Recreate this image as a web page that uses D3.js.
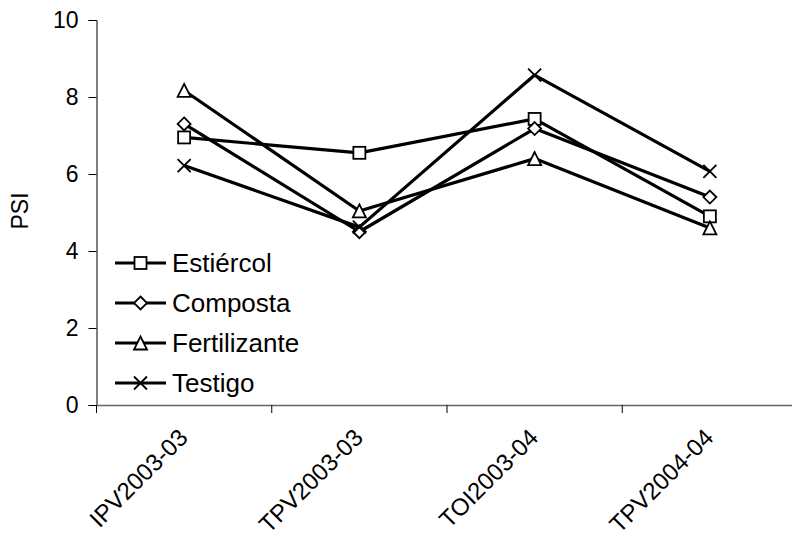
<!DOCTYPE html>
<html><head><meta charset="utf-8">
<script src="https://cdn.jsdelivr.net/npm/d3@7"></script>
<style>body{margin:0;background:#fff}svg{display:block}</style>
</head><body>
<script>
const categories = ["IPV2003-03", "TPV2003-03", "TOI2003-04", "TPV2004-04"];
const seriesNames = ["Estiércol", "Composta", "Fertilizante", "Testigo"];
const estiercol = [6.95, 6.55, 7.43, 4.9];
const composta = [7.3, 4.5, 7.18, 5.4];
const fertilizante = [8.17, 5.04, 6.4, 4.6];
const testigo = [6.22, 4.62, 8.57, 6.07];
const yTicks = [0, 2, 4, 6, 8, 10];
const markers = ["square", "diamond", "triangle", "cross"];

const series = [estiercol, composta, fertilizante, testigo].map((v, i) => ({name: seriesNames[i], values: v, marker: markers[i]}));

const W = 792, H = 542;
const svg = d3.select("body").append("svg").attr("width", W).attr("height", H);
const font = "'Liberation Sans', Arial, sans-serif";

const x = d3.scaleBand().domain(categories).range([96.5, 797.5]);
const y = d3.scaleLinear().domain([0, 10]).range([405, 20]);

// y axis
const yAxis = svg.append("g").attr("transform", "translate(96.5,0)")
  .call(d3.axisLeft(y).tickValues(yTicks).tickSize(8).tickPadding(10));
yAxis.select(".domain").attr("stroke", "#000").attr("stroke-width", 1);
yAxis.selectAll(".tick line").attr("stroke", "#000");
yAxis.selectAll("text").attr("font-family", font).attr("font-size", 23).attr("fill", "#000");

// x axis
const xAxis = svg.append("g").attr("transform", "translate(0,405)")
  .call(d3.axisBottom(x).tickSize(0).tickFormat(""));
xAxis.select(".domain").attr("stroke", "#666").attr("stroke-width", 1.5);
const bounds = categories.map(c => x(c));
svg.append("g").selectAll("line").data(bounds).join("line")
  .attr("x1", d => d).attr("x2", d => d).attr("y1", 405).attr("y2", 413)
  .attr("stroke", "#000").attr("stroke-width", 1);

svg.append("g").selectAll("text").data(categories).join("text")
  .attr("transform", d => `translate(${x(d) + x.bandwidth()/2 + 5},${439}) rotate(-45)`)
  .attr("text-anchor", "end")
  .attr("font-family", font).attr("font-size", 24).attr("fill", "#000")
  .text(d => d);

// y label
svg.append("text").attr("transform", "translate(28,211) rotate(-90)")
  .attr("text-anchor", "middle").attr("font-family", font).attr("font-size", 23)
  .text("PSI");

const cx = c => x(c) + x.bandwidth()/2;
const line = d3.line().x((d, i) => cx(categories[i])).y(d => y(d));

function drawMarker(g, type, px, py) {
  const s = 6.5;
  if (type === "square") {
    g.append("rect").attr("x", px - s + 0.5).attr("y", py - s + 0.5).attr("width", 2*s - 1).attr("height", 2*s - 1)
      .attr("fill", "#fff").attr("stroke", "#000").attr("stroke-width", 1.8);
  } else if (type === "diamond") {
    g.append("path").attr("d", `M${px},${py - s}L${px + s},${py}L${px},${py + s}L${px - s},${py}Z`)
      .attr("fill", "#fff").attr("stroke", "#000").attr("stroke-width", 1.8);
  } else if (type === "triangle") {
    g.append("path").attr("d", `M${px},${py - s}L${px + s},${py + s}L${px - s},${py + s}Z`)
      .attr("fill", "#fff").attr("stroke", "#000").attr("stroke-width", 1.8);
  } else {
    g.append("path").attr("d", `M${px - s},${py - s}L${px + s},${py + s}M${px + s},${py - s}L${px - s},${py + s}`)
      .attr("fill", "none").attr("stroke", "#000").attr("stroke-width", 1.8);
  }
}

series.forEach(s => {
  const g = svg.append("g");
  g.append("path").datum(s.values).attr("d", line)
    .attr("fill", "none").attr("stroke", "#000").attr("stroke-width", 3.2).attr("stroke-linejoin", "round");
  s.values.forEach((v, i) => drawMarker(g, s.marker, cx(categories[i]), y(v)));
});

// legend
const leg = svg.append("g");
series.forEach((s, i) => {
  const ly = 263 + i * 40;
  const g = leg.append("g");
  g.append("line").attr("x1", 115).attr("x2", 166).attr("y1", ly).attr("y2", ly)
    .attr("stroke", "#000").attr("stroke-width", 3.2);
  drawMarker(g, s.marker, 140.5, ly);
  g.append("text").attr("x", 172).attr("y", ly + 9).attr("font-family", font).attr("font-size", 26)
    .text(s.name);
});
</script>
</body></html>
